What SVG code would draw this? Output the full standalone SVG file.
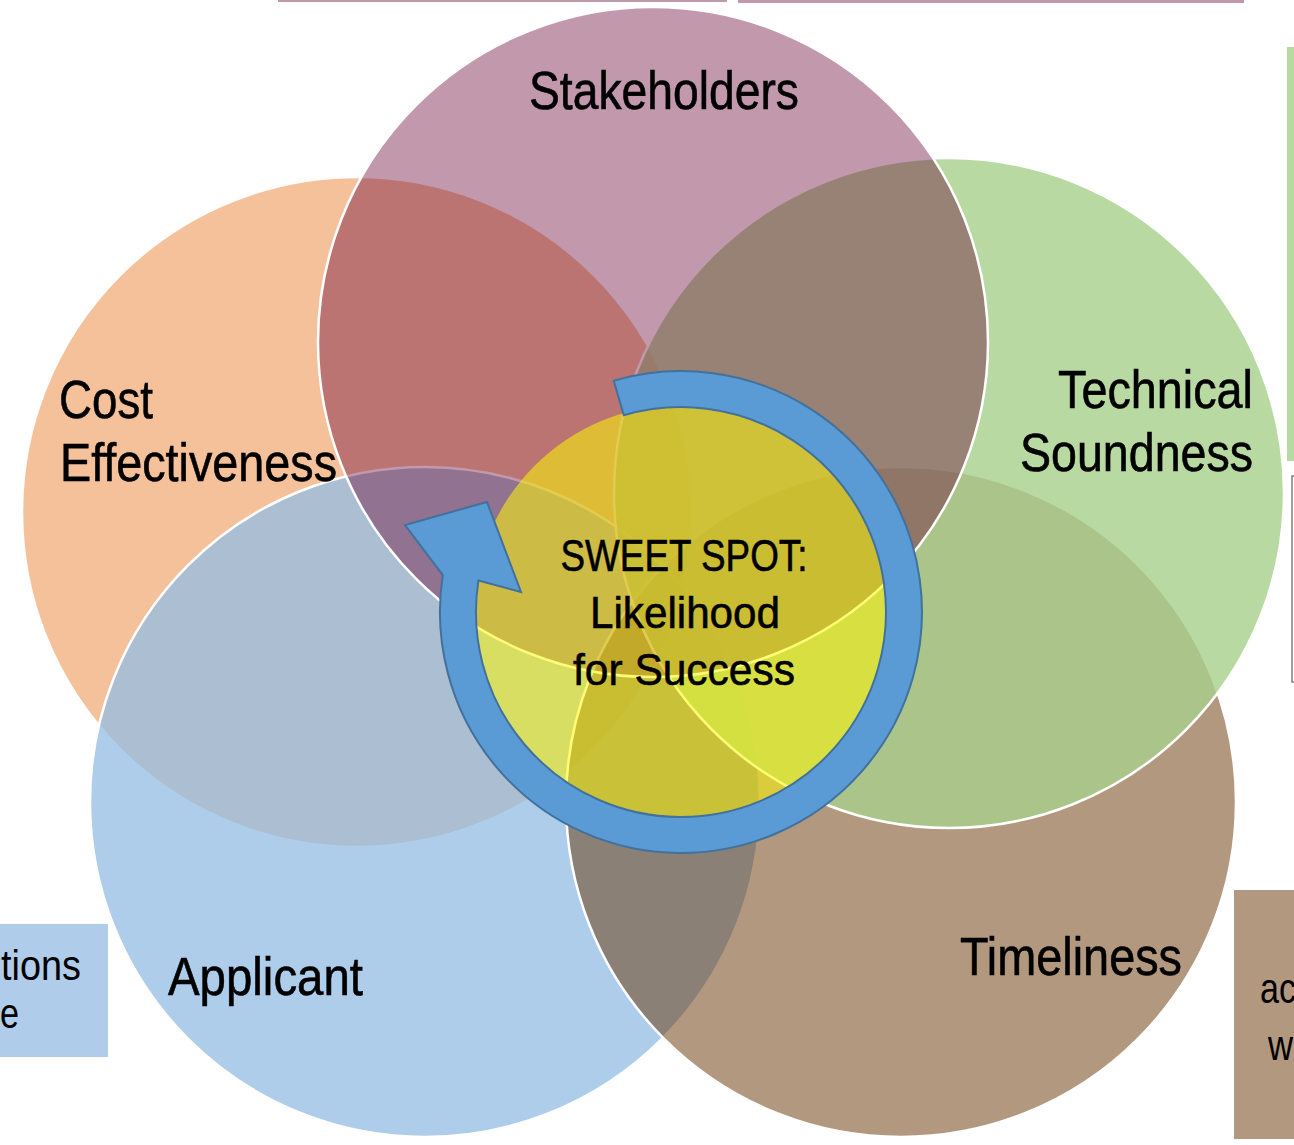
<svg xmlns="http://www.w3.org/2000/svg" width="1294" height="1145" viewBox="0 0 1294 1145">
<style>
.lbl{font-family:"Liberation Sans",Arial,sans-serif;fill:#000;stroke:#000;stroke-width:0.6;}
.big{font-size:53px;}
.mid{font-size:45px;}
.side{font-size:42px;stroke-width:0;}
.venn{stroke:#fff;stroke-width:2.5;}
</style>
<rect width="1294" height="1145" fill="#fff"/>
<g id="partial-boxes">
  <rect x="278" y="0" width="449" height="2" fill="#c199ac"/>
  <rect x="738" y="0" width="506" height="3" fill="#c199ac"/>
  <rect x="1287" y="47" width="10" height="414" fill="#b9d9a3"/>
  <rect x="1292" y="476" width="10" height="206" fill="#fff" stroke="#7f7f7f" stroke-width="1.5"/>
  <rect x="-2" y="924" width="110" height="133" fill="#afcdea"/>
  <text class="lbl side" x="81" y="980" text-anchor="end" textLength="80" lengthAdjust="spacingAndGlyphs">tions</text>
  <text class="lbl side" x="19" y="1028" text-anchor="end" textLength="19" lengthAdjust="spacingAndGlyphs">e</text>
  <rect x="1234" y="890" width="70" height="249" fill="#b2987f"/>
  <text class="lbl side" x="1260" y="1003" textLength="36" lengthAdjust="spacingAndGlyphs">ac</text>
  <text class="lbl side" x="1268" y="1060" textLength="25" lengthAdjust="spacingAndGlyphs">w</text>
</g>
<g id="node-cost">
  <circle class="venn" cx="357" cy="512" r="335" fill="#f5c19b"/>
</g>
<g id="node-applicant">
  <circle class="venn" cx="425" cy="802" r="335" fill="#93bce3" fill-opacity="0.75"/>
</g>
<g id="node-timeliness">
  <circle class="venn" cx="901" cy="802" r="335" fill="#6b3909" fill-opacity="0.52"/>
</g>
<g id="node-technical">
  <circle class="venn" cx="949" cy="493" r="335" fill="#a8d08c" fill-opacity="0.8"/>
</g>
<g id="node-stakeholders">
  <circle class="venn" cx="653" cy="342" r="335" fill="#6b0a39" fill-opacity="0.42"/>
</g>
<g id="node-sweetspot">
  <circle cx="681" cy="612" r="207" fill="#fdf705" fill-opacity="0.55"/>
</g>
<g id="connectors">
  <path d="M613.7,380.6 A241,241 0 1 1 442.8,575.1 L405,525 L487,502 L521,592 L478.4,580.6 A205,205 0 1 0 623.8,415.2 Z" fill="#5b9bd5" stroke="#41719c" stroke-width="2" stroke-linejoin="miter"/>
</g>
<g id="labels">
  <text class="lbl big" x="664" y="109" text-anchor="middle" textLength="270" lengthAdjust="spacingAndGlyphs">Stakeholders</text>
  <text class="lbl big" x="59" y="418" textLength="94" lengthAdjust="spacingAndGlyphs">Cost</text>
  <text class="lbl big" x="60" y="481" textLength="277" lengthAdjust="spacingAndGlyphs">Effectiveness</text>
  <text class="lbl big" x="1253" y="408" text-anchor="end" textLength="195" lengthAdjust="spacingAndGlyphs">Technical</text>
  <text class="lbl big" x="1253" y="471" text-anchor="end" textLength="233" lengthAdjust="spacingAndGlyphs">Soundness</text>
  <text class="lbl big" x="168" y="995" textLength="195" lengthAdjust="spacingAndGlyphs">Applicant</text>
  <text class="lbl big" x="960" y="975" textLength="222" lengthAdjust="spacingAndGlyphs">Timeliness</text>
  <text class="lbl mid" x="684" y="571" text-anchor="middle" textLength="247" lengthAdjust="spacingAndGlyphs">SWEET SPOT:</text>
  <text class="lbl mid" x="685" y="628" text-anchor="middle" textLength="190" lengthAdjust="spacingAndGlyphs">Likelihood</text>
  <text class="lbl mid" x="684" y="685" text-anchor="middle" textLength="222" lengthAdjust="spacingAndGlyphs">for Success</text>
</g>
</svg>
